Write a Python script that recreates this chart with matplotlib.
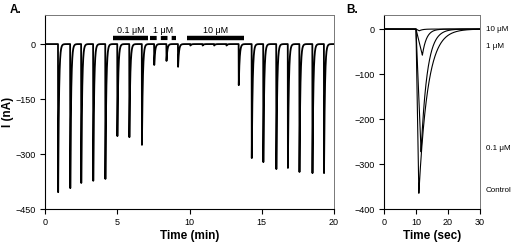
import numpy as np
import matplotlib
matplotlib.use('Agg')
from matplotlib import pyplot as plt

narrow = ['Liberation Sans', 'DejaVu Sans']
bold_font = ['Liberation Sans', 'DejaVu Sans']
plt.rcParams['font.family'] = narrow

# panel A: spike onset times (min) and peak currents (nA)
spike_t = [0.9, 1.74, 2.5, 3.33, 4.17, 5.0, 5.83, 6.7, 7.55, 8.4, 9.2,
           10.05, 10.9, 11.7, 12.55, 13.4, 14.3, 15.1, 16.0, 16.8, 17.6, 18.5, 19.3]
spike_amp = [-404, -393, -379, -373, -368, -251, -254, -275, -57, -46, -62,
             -4, -4, -4, -4, -112, -311, -322, -341, -338, -349, -352, -352]

# drug application bars (min)
bar_labels = ['0.1 \u03bcM', '1 \u03bcM', '10 \u03bcM']
bar_start = [4.72, 7.3, 9.85]
bar_end = [7.15, 9.1, 13.8]
bar_dashed = [False, True, False]

# panel B: single responses, peak time (sec), peak (nA), decay tau (sec)
trace_names = ['10 \u03bcM', '1 \u03bcM', '0.1 \u03bcM', 'Control']
trace_peak_t = [11.0, 12.0, 11.6, 10.9]
trace_amp = [-4, -58, -273, -365]
trace_tau = [1.0, 1.3, 1.9, 2.8]
trace_label_y = [0, -38, -265, -358]

fig = plt.figure(figsize=(5.13, 2.47), dpi=100)

axA = fig.add_axes([0.0877, 0.1538, 0.5634, 0.785])
t = np.linspace(0, 20, 20001)
yA = np.zeros_like(t)
for t0, a in zip(spike_t, spike_amp):
    rise = (t >= t0) & (t < t0 + 0.01)
    yA[rise] += a * (t[rise] - t0) / 0.01
    dec = t >= t0 + 0.01
    yA[dec] += a * np.exp(-(t[dec] - t0 - 0.01) / 0.06)
axA.plot(t, yA, color='black', lw=1.3)

for lab, s, e, d in zip(bar_labels, bar_start, bar_end, bar_dashed):
    if d:
        axA.plot([s, e], [16, 16], color='black', lw=3, dashes=(1.6, 1.0), solid_capstyle='butt')
    else:
        axA.plot([s, e], [16, 16], color='black', lw=3.2, solid_capstyle='butt')
    axA.text((s + e) / 2, 24, lab, ha='center', va='bottom', fontsize=6.5)

axA.set_xlim(0, 20)
axA.set_ylim(-450, 79)
axA.set_xticks([0, 5, 10, 15, 20])
axA.set_yticks([0, -150, -300, -450])
axA.set_xlabel('Time (min)', fontsize=8.5, fontweight='bold', family=bold_font, labelpad=2)
axA.set_ylabel('I (nA)', fontsize=8.5, fontweight='bold', family=bold_font)
axA.yaxis.set_label_coords(-0.108, 0.5)

axB = fig.add_axes([0.7485, 0.1538, 0.1871, 0.785])
tb = np.linspace(0, 30, 6001)
on = 10.0
for tp, a, tau, ly, name in zip(trace_peak_t, trace_amp, trace_tau, trace_label_y, trace_names):
    yb = np.zeros_like(tb)
    m = (tb >= on) & (tb < tp)
    yb[m] = a * (tb[m] - on) / (tp - on)
    m = tb >= tp
    yb[m] = a * np.exp(-(tb[m] - tp) / tau)
    axB.plot(tb, yb, color='black', lw=0.8)
    axB.text(1.06, ly, name, transform=axB.get_yaxis_transform(), fontsize=5.8, va='center', ha='left')

axB.set_xlim(0, 30)
axB.set_ylim(-400, 31)
axB.set_xticks([0, 10, 20, 30])
axB.set_yticks([0, -100, -200, -300, -400])
axB.set_xlabel('Time (sec)', fontsize=8.5, fontweight='bold', family=bold_font, labelpad=2)

for ax in (axA, axB):
    ax.tick_params(direction='out', length=3.5, width=0.8, labelsize=6.5, pad=3)
    for s in ('top', 'right'):
        ax.spines[s].set_color('#777777')
        ax.spines[s].set_linewidth(0.7)
    for s in ('left', 'bottom'):
        ax.spines[s].set_linewidth(0.8)

fig.text(10 / 513, 1 - 10 / 247, 'A.', fontsize=8.5, fontweight='bold', va='center', family=bold_font)
fig.text(346 / 513, 1 - 10 / 247, 'B.', fontsize=8.5, fontweight='bold', va='center', family=bold_font)

fig.savefig('out.png', dpi=100)
